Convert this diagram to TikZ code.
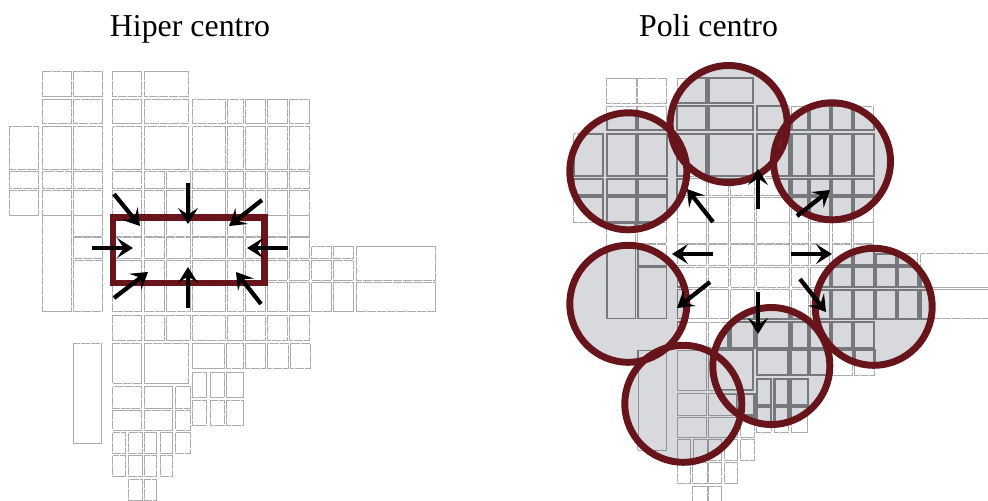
\documentclass[tikz,border=0pt]{standalone}
\usepackage{fontspec}
\setmainfont{Liberation Serif}
\usetikzlibrary{arrows.meta}

\definecolor{ringred}{HTML}{67141A}
\definecolor{zonegray}{HTML}{D8D9DD}
\definecolor{linegray}{HTML}{ABABAB}
\definecolor{darkgray}{HTML}{77787C}

\tikzset{
    block/.style={draw=linegray, line width=0.55pt, dash pattern=on 7pt off 0.5pt},
    blockdark/.style={draw=darkgray, line width=1.6pt},
    blockmid/.style={draw=darkgray, line width=1pt},
    blockthin/.style={draw=darkgray!80, line width=0.5pt},
    zone/.style={draw=ringred, line width=5.2pt},
    push/.style={draw=black, line width=3.2pt, -{Stealth[length=12pt,width=15pt,inset=5pt]}},
    title/.style={anchor=base, font=\fontsize{23.9}{28}\selectfont}
}

% the street grid, in pixels of the left plan
\newcommand{\cityblocks}{
    % upper rows
    \foreach \xa/\xb in {42.3/71.7,73.3/102.3,112.7/141.7,144/188.3}
        \draw[block] (\xa,71) rectangle (\xb,96);
    \foreach \xa/\xb in {42.3/71.7,73.3/102.3,112.7/141.7,144/188.3,192.3/225,227/243.7,245.5/265.3,267.5/287.3,289.3/309.3}
        \draw[block] (\xa,99) rectangle (\xb,123.3);
    \foreach \xa/\xb in {9.3/38.3,42.3/71.7,73.3/102.3,112.7/141.7,144/188.3,192.3/225,227/243.7,245.5/265.3,267.5/287.3,289.3/309.3}
        \draw[block] (\xa,126.7) rectangle (\xb,169);
    \foreach \ya/\yb in {171.7/188.3,190/215}
        \foreach \xa/\xb in {9.3/38.3,42.3/71.7,73.3/102.3,112.7/141.7,144/164,166/190,192.3/225,227/243.7,245.5/265.3,267.5/287.3,289.3/309.3}
            \draw[block] (\xa,\ya) rectangle (\xb,\yb);
    % middle rows
    \draw[block] (42.3,215.7) rectangle (71,311.7);
    \draw[block] (73.3,215.7) rectangle (102,236.7);
    \draw[block] (73.3,237.7) rectangle (102,258.3);
    \draw[block] (73.3,260) rectangle (102,311.7);
    \foreach \ya/\yb in {215.7/236.7,237.7/258.3,260/280,282.7/311.7,315/340.7}
        \foreach \xa/\xb in {112.7/141.7,144/164,166/190,192.3/225,227/243.7,245.5/265.3,267.5/287.3,289.3/309.3}
            \draw[block] (\xa,\ya) rectangle (\xb,\yb);
    % east arm
    \foreach \xa/\xb in {311.7/331.7,333.3/353.3}{
        \draw[block] (\xa,246.7) rectangle (\xb,258.3);
        \draw[block] (\xa,260) rectangle (\xb,280);
        \draw[block] (\xa,282.7) rectangle (\xb,311.7);
    }
    \draw[block] (356,246.7) rectangle (435,280);
    \draw[block] (356,282.7) rectangle (435,311.7);
    % lower rows
    \draw[block] (73.3,343.3) rectangle (101.7,443.3);
    \draw[block] (112.7,343.3) rectangle (141.7,383);
    \draw[block] (144,343.3) rectangle (188.3,383);
    \foreach \xa/\xb in {192.3/224,226.7/243.3,245.7/265.7,267.7/288.3,290/310}
        \draw[block] (\xa,343.3) rectangle (\xb,368.3);
    \foreach \ya/\yb in {386.7/408.3,410/430}
        \foreach \xa/\xb in {112.7/141.7,144/172.7,175.7/190}
            \draw[block] (\xa,\ya) rectangle (\xb,\yb);
    \foreach \ya/\yb in {372.3/397.7,400/425}
        \foreach \xa/\xb in {192.3/206.7,210/224,226.7/243.3}
            \draw[block] (\xa,\ya) rectangle (\xb,\yb);
    \foreach \xa/\xb in {112.7/125.7,128.3/142.7,144/156.7,160/172.7,175.7/190}
        \draw[block] (\xa,432.7) rectangle (\xb,453.3);
    \foreach \xa/\xb in {112.7/125.7,128.3/142.7,144/156.7,160/172.7}
        \draw[block] (\xa,455.7) rectangle (\xb,476);
    \foreach \xa/\xb in {128.3/142.7,144/156.7}
        \draw[block] (\xa,479) rectangle (\xb,500);
}

\begin{document}
\begin{tikzpicture}[x=0.75pt,y=-0.75pt]

    \useasboundingbox (0,0) rectangle (988,500);

    \node[title] (hiper) at (190,36) {Hiper centro};
    \node[title] (poli) at (708.5,36) {Poli centro};

    % left plan
    \cityblocks
    \draw[zone] (113,217.7) rectangle (264.2,283);

    \draw[push] (114,194) -- (140,226);
    \draw[push] (188,183) -- (188,224);
    \draw[push] (262,200) -- (229,226);
    \draw[push] (92,248) -- (133,248);
    \draw[push] (288,248) -- (247,248);
    \draw[push] (114,298) -- (148,272);
    \draw[push] (188,308) -- (188,267);
    \draw[push] (261,304) -- (236,272);

    % right plan
    \begin{scope}[xshift=423.4pt,yshift=-5.25pt]
        \cityblocks
    \end{scope}

    \foreach \cx/\cy in {628.3/171.3,728.7/124,832/161.3,873.7/306.8,628.3/303.8,771.3/366,683.3/403.8}
        \fill[zonegray] (\cx,\cy) circle [radius=60];

    \foreach \cx/\cy/\blk in {628.3/171.3/blockdark,728.7/124/blockdark,832/161.3/blockdark,873.7/306.8/blockdark,628.3/303.8/blockmid,771.3/366/blockdark,683.3/403.8/blockthin}{
        \begin{scope}[block/.style={\blk}]
            \clip (\cx,\cy) circle [radius=58.5];
            \begin{scope}[xshift=423.4pt,yshift=-5.25pt]
                \cityblocks
            \end{scope}
        \end{scope}
    }

    \foreach \cx/\cy in {628.3/171.3,728.7/124,832/161.3,873.7/306.8,628.3/303.8,771.3/366,683.3/403.8}
        \draw[zone] (\cx,\cy) circle [radius=58.5];

    \draw[push] (713,222) -- (687,189);
    \draw[push] (758,209) -- (758,169);
    \draw[push] (797,216) -- (830,190);
    \draw[push] (713,254) -- (672,254);
    \draw[push] (791,254) -- (832,254);
    \draw[push] (710,282) -- (677,308);
    \draw[push] (758,292) -- (758,334);
    \draw[push] (800,279) -- (826,312);

\end{tikzpicture}
\end{document}
